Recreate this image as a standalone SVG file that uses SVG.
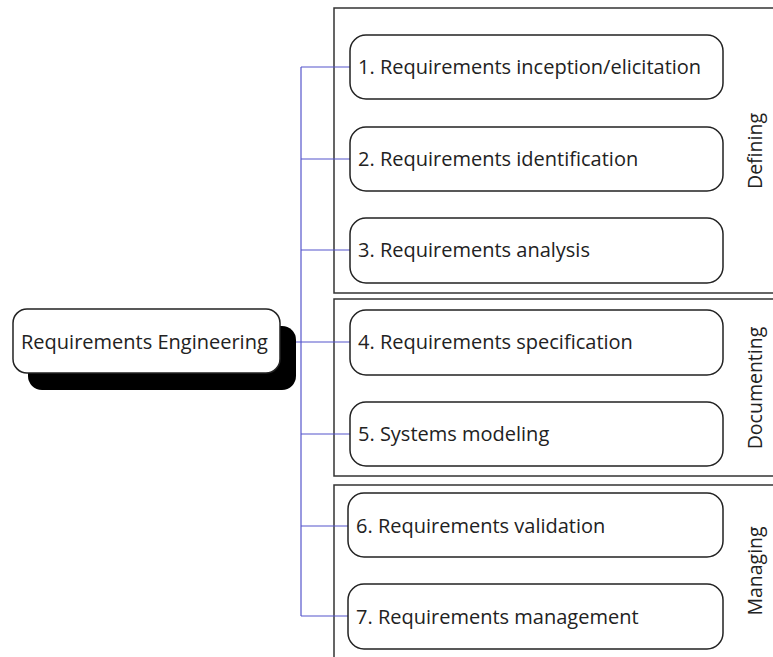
<svg xmlns="http://www.w3.org/2000/svg" width="773" height="657" viewBox="0 0 773 657">
<style>
.grp{fill:none;stroke:#333;stroke-width:1.5}
.box{fill:#fff;stroke:#222;stroke-width:1.5}
.t{font-family:"Open Sans","Noto Sans",sans-serif;font-size:20px;fill:#222}
.v{font-family:"Open Sans","Noto Sans",sans-serif;font-size:19.5px;fill:#222;text-anchor:middle}
.c{fill:none;stroke:#5555cc;stroke-width:1.2}
</style>
<g id="group-defining">
<rect class="grp" x="334" y="8" width="460" height="285"/>
<text class="v" transform="translate(762,151) rotate(-90)">Defining</text>
</g>
<g id="group-documenting">
<rect class="grp" x="334" y="299" width="460" height="177"/>
<text class="v" transform="translate(762,388) rotate(-90)">Documenting</text>
</g>
<g id="group-managing">
<rect class="grp" x="334" y="485" width="460" height="200"/>
<text class="v" transform="translate(762,571) rotate(-90)">Managing</text>
</g>
<g id="connectors">
<path class="c" d="M301,67 V616"/>
<path class="c" d="M280,342 H350"/>
<path class="c" d="M301,67 H350 M301,159 H350 M301,250 H350 M301,434 H350 M301,526 H350 M301,616 H350"/>
</g>
<g id="root">
<rect x="28" y="326" width="268" height="64" rx="14" fill="#000"/>
<rect class="box" x="13" y="309" width="267" height="64" rx="14"/>
<text class="t" x="21" y="349">Requirements Engineering</text>
</g>
<g id="n1"><rect class="box" x="350" y="35" width="373" height="64" rx="16"/><text class="t" x="358" y="74">1. Requirements inception/elicitation</text></g>
<g id="n2"><rect class="box" x="350" y="127" width="373" height="64" rx="16"/><text class="t" x="358" y="166">2. Requirements identification</text></g>
<g id="n3"><rect class="box" x="350" y="218" width="373" height="65" rx="16"/><text class="t" x="358" y="257">3. Requirements analysis</text></g>
<g id="n4"><rect class="box" x="350" y="310" width="373" height="65" rx="16"/><text class="t" x="358" y="349">4. Requirements specification</text></g>
<g id="n5"><rect class="box" x="350" y="402" width="373" height="64" rx="16"/><text class="t" x="358" y="441">5. Systems modeling</text></g>
<g id="n6"><rect class="box" x="348" y="493" width="375" height="64" rx="16"/><text class="t" x="356" y="533">6. Requirements validation</text></g>
<g id="n7"><rect class="box" x="348" y="584" width="375" height="65" rx="16"/><text class="t" x="356" y="624">7. Requirements management</text></g>
</svg>
